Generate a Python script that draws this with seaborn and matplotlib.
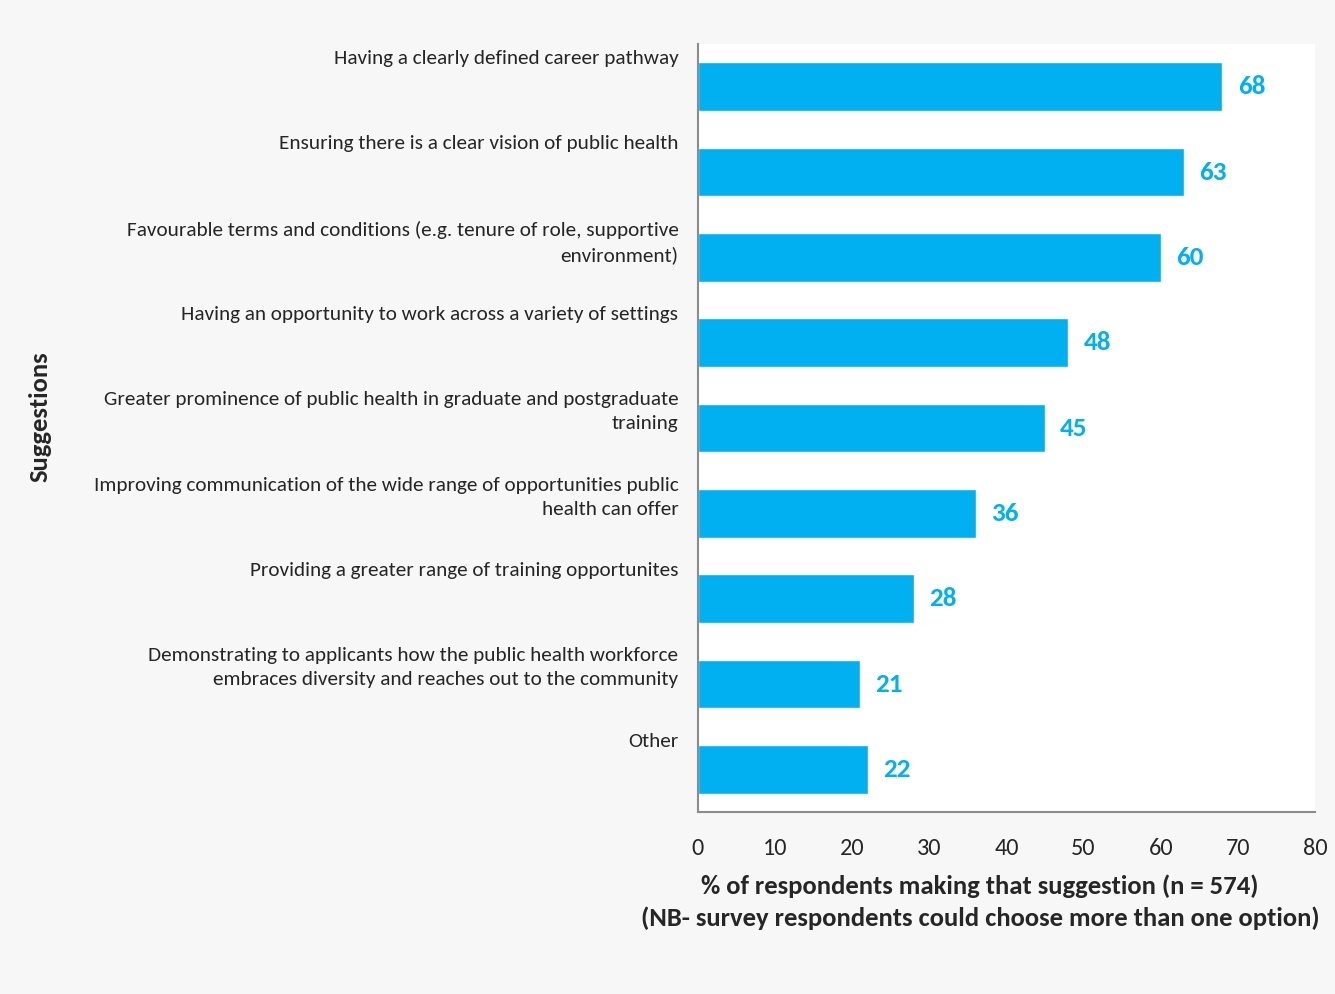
import matplotlib
matplotlib.use("Agg")
import matplotlib.pyplot as plt
import seaborn as sns
import pandas as pd

suggestions = [
    "Having a clearly defined career pathway",
    "Ensuring there is a clear vision of public health",
    "Favourable terms and conditions (e.g. tenure of role, supportive\nenvironment)",
    "Having an opportunity to work across a variety of settings",
    "Greater prominence of public health in graduate and postgraduate\ntraining",
    "Improving communication of the wide range of opportunities public\nhealth can offer",
    "Providing a greater range of training opportunites",
    "Demonstrating to applicants how the public health workforce\nembraces diversity and reaches out to the community",
    "Other",
]
percent = [68, 63, 60, 48, 45, 36, 28, 21, 22]
x_ticks = [0, 10, 20, 30, 40, 50, 60, 70, 80]

df = pd.DataFrame({"suggestion": suggestions, "percent": percent})

sns.set_theme(style="white")
plt.rcParams["font.family"] = ["Carlito", "DejaVu Sans"]

bar_color = "#00b0f0"
fig = plt.figure(figsize=(13.35, 9.94), dpi=100, facecolor="#f7f7f7")
ax = fig.add_axes([0.5228, 0.1831, 0.4622, 0.7726])
ax.set_facecolor("white")

sns.barplot(data=df, x="percent", y="suggestion", color=bar_color,
            width=0.57, saturation=1, ax=ax, orient="h")

ax.set_xlim(0, 80)
ax.set_xticks(x_ticks)
ax.set_xticklabels([str(t) for t in x_ticks], fontsize=17.5)
ax.tick_params(axis="x", length=0, pad=19)

# category labels sit at the top of each band, right-aligned
ax.set_yticks([i - 0.43 for i in range(len(suggestions))])
ax.set_yticklabels(suggestions, fontsize=15.3, va="top", ha="right",
                   multialignment="right", linespacing=1.5)
ax.tick_params(axis="y", length=0, pad=14)
ax.set_ylim(len(suggestions) - 0.5, -0.5)

for side in ["top", "right"]:
    ax.spines[side].set_visible(False)
for side in ["left", "bottom"]:
    ax.spines[side].set_color("#8c8c8c")
    ax.spines[side].set_linewidth(1.5)

ax.bar_label(ax.containers[0], labels=[str(v) for v in percent], padding=11,
             fontsize=19.5, fontweight="bold", color=bar_color)

ax.set_ylabel("")
ax.set_xlabel("% of respondents making that suggestion (n = 574)\n"
              "(NB- survey respondents could choose more than one option)",
              fontsize=19.2, fontweight="bold", linespacing=1.42)
ax.xaxis.set_label_coords(0.457, -0.081)
ax.xaxis.label.set_va("top")

fig.text(40 / 1335, 1 - 417 / 994, "Suggestions", rotation=90, fontsize=19.2,
         fontweight="bold", ha="center", va="center")

fig.savefig("out.png", dpi=100, facecolor=fig.get_facecolor())
